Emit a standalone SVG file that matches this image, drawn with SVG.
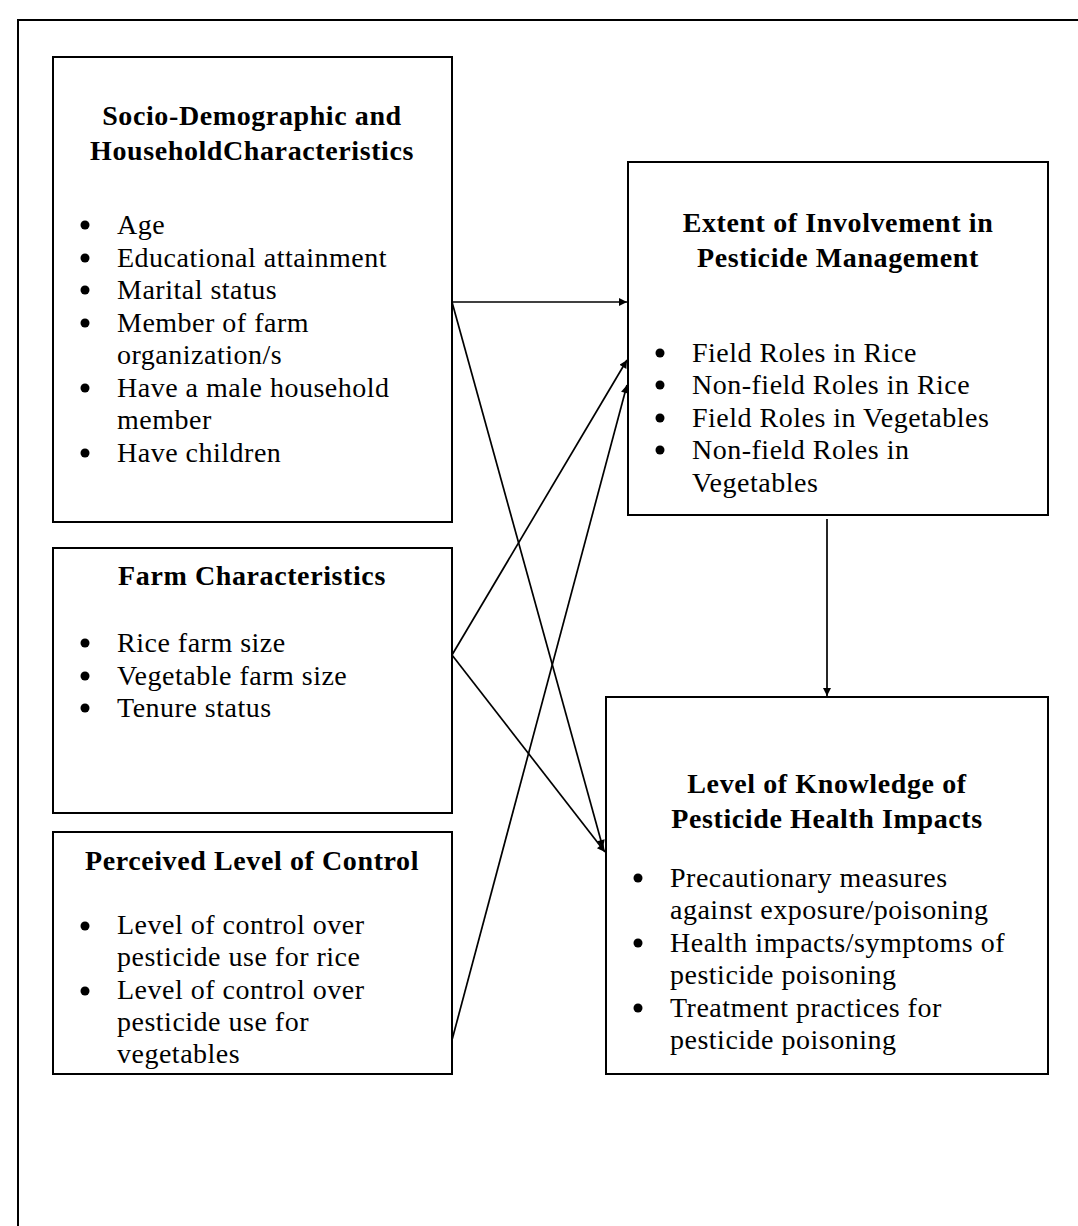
<svg xmlns="http://www.w3.org/2000/svg" width="1078" height="1226" viewBox="0 0 1078 1226">
<style>
.box{fill:#fff;stroke:#000;stroke-width:2}
.t{font-family:"Liberation Serif","Times New Roman",serif;font-size:28px;font-weight:bold;letter-spacing:0.6px;text-anchor:middle;fill:#000}
.b{font-family:"Liberation Serif","Times New Roman",serif;font-size:28px;letter-spacing:0.5px;fill:#000}
.c{stroke:#000;stroke-width:1.7;fill:none;marker-end:url(#ah)}
</style>
<defs>
<marker id="ah" viewBox="0 0 10 10" refX="10" refY="5" markerWidth="10" markerHeight="8" markerUnits="userSpaceOnUse" orient="auto">
<path d="M0,0 L10,5 L0,10 z" fill="#000"/>
</marker>
</defs>
<rect x="18" y="20" width="1080" height="1230" fill="none" stroke="#000" stroke-width="2"/>
<g id="socio">
<rect class="box" x="53" y="57" width="399" height="465"/>
<text class="t" x="252" y="125">Socio-Demographic and</text>
<text class="t" x="252" y="160">HouseholdCharacteristics</text>
<g class="b">
<circle cx="85" cy="225" r="4.5"/><text x="117" y="234">Age</text>
<circle cx="85" cy="258" r="4.5"/><text x="117" y="267">Educational attainment</text>
<circle cx="85" cy="290" r="4.5"/><text x="117" y="299">Marital status</text>
<circle cx="85" cy="323" r="4.5"/><text x="117" y="332">Member of farm</text>
<text x="117" y="364">organization/s</text>
<circle cx="85" cy="388" r="4.5"/><text x="117" y="397">Have a  male household</text>
<text x="117" y="429">member</text>
<circle cx="85" cy="453" r="4.5"/><text x="117" y="462">Have children</text>
</g>
</g>
<g id="farm">
<rect class="box" x="53" y="548" width="399" height="265"/>
<text class="t" x="252" y="585">Farm Characteristics</text>
<g class="b">
<circle cx="85" cy="643" r="4.5"/><text x="117" y="652">Rice farm size</text>
<circle cx="85" cy="676" r="4.5"/><text x="117" y="685">Vegetable farm size</text>
<circle cx="85" cy="708" r="4.5"/><text x="117" y="717">Tenure status</text>
</g>
</g>
<g id="control">
<rect class="box" x="53" y="832" width="399" height="242"/>
<text class="t" x="252" y="870">Perceived Level of Control</text>
<g class="b">
<circle cx="85" cy="926" r="4.5"/><text x="117" y="934">Level of control over</text>
<text x="117" y="966">pesticide use for rice</text>
<circle cx="85" cy="991" r="4.5"/><text x="117" y="999">Level of control over</text>
<text x="117" y="1031">pesticide use for</text>
<text x="117" y="1063">vegetables</text>
</g>
</g>
<g id="extent">
<rect class="box" x="628" y="162" width="420" height="353"/>
<text class="t" x="838" y="232">Extent of Involvement in</text>
<text class="t" x="838" y="267">Pesticide Management</text>
<g class="b">
<circle cx="660" cy="353" r="4.5"/><text x="692" y="362">Field Roles in Rice</text>
<circle cx="660" cy="385" r="4.5"/><text x="692" y="394">Non-field Roles in Rice</text>
<circle cx="660" cy="418" r="4.5"/><text x="692" y="427">Field Roles in Vegetables</text>
<circle cx="660" cy="450" r="4.5"/><text x="692" y="459">Non-field Roles in</text>
<text x="692" y="492">Vegetables</text>
</g>
</g>
<g id="knowledge">
<rect class="box" x="606" y="697" width="442" height="377"/>
<text class="t" x="827" y="793">Level of Knowledge of</text>
<text class="t" x="827" y="828">Pesticide Health Impacts</text>
<g class="b">
<circle cx="638" cy="878" r="4.5"/><text x="670" y="887">Precautionary measures</text>
<text x="670" y="919">against exposure/poisoning</text>
<circle cx="638" cy="943" r="4.5"/><text x="670" y="952">Health impacts/symptoms of</text>
<text x="670" y="984">pesticide poisoning</text>
<circle cx="638" cy="1008" r="4.5"/><text x="670" y="1017">Treatment practices for</text>
<text x="670" y="1049">pesticide poisoning</text>
</g>
</g>
<g id="connectors">
<line class="c" x1="452" y1="302" x2="627" y2="302"/>
<line class="c" x1="452" y1="302" x2="603" y2="848"/>
<line class="c" x1="452" y1="655" x2="627" y2="360"/>
<line class="c" x1="452" y1="655" x2="605" y2="852"/>
<line class="c" x1="452" y1="1040" x2="627" y2="385"/>
<line class="c" x1="827" y1="519" x2="827" y2="696"/>
</g>
</svg>
